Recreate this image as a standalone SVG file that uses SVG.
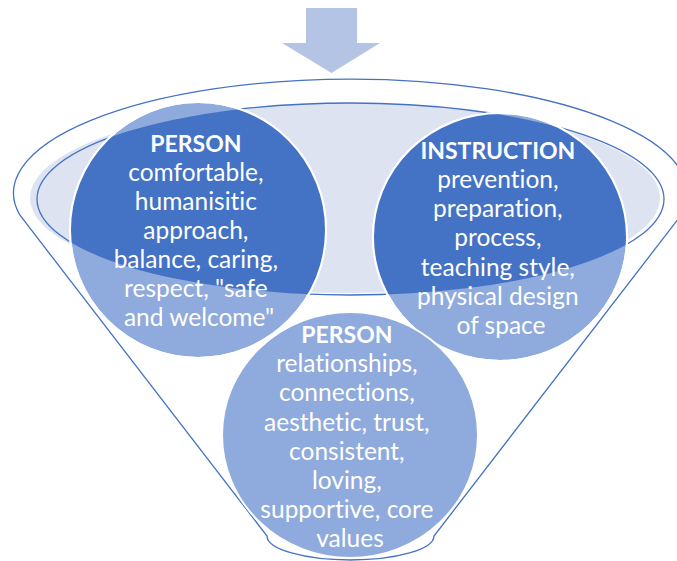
<svg xmlns="http://www.w3.org/2000/svg" width="677" height="561" viewBox="0 0 677 561">
  <defs>
    <style>
      .funnel { fill: #FFFFFF; stroke: #4472C4; stroke-width: 1.3; }
      .inner-fill { fill: #DDE3F1; }
      .inner-line { fill: none; stroke: #4472C4; stroke-width: 1.3; }
      .circ { fill: #8FAADC; stroke: #FFFFFF; stroke-width: 2; }
      .dark { fill: #4472C4; }
      .ring { fill: none; stroke: #FFFFFF; stroke-width: 2; }
      .arrow { fill: #B4C4E4; }
      .lbl { font-family: "Lato", "Liberation Sans", sans-serif; font-size: 24.5px; fill: #FFFFFF; text-anchor: middle; font-variant-ligatures: none; font-feature-settings: "liga" 0, "clig" 0; }
      .hd { font-weight: bold; font-size: 23px; }
    </style>
    <clipPath id="innerClip">
      <ellipse cx="350.5" cy="199" rx="313.5" ry="96"/>
    </clipPath>
  </defs>

  <g id="arrow">
    <polygon class="arrow" points="306,8 357,8 357,43 380,43 331.5,73 282,43 306,43"/>
  </g>

  <g id="funnel">
    <path class="funnel" d="M 19.8 215 A 337 114 0 1 1 681.2 215 L 434 536 A 83.5 24 0 0 1 267 536 Z"/>
    <ellipse class="inner-fill" cx="345" cy="198" rx="315" ry="95"/>
    <ellipse class="inner-line" cx="350.5" cy="199" rx="313.5" ry="96"/>
  </g>

  <g id="node-person-top">
    <circle class="circ" cx="198" cy="230" r="128"/>
    <circle class="dark" cx="198" cy="230" r="128" clip-path="url(#innerClip)"/>
    <circle class="ring" cx="198" cy="230" r="128"/>
    <text class="lbl">
      <tspan class="hd" x="199" y="152">PERSON</tspan>
      <tspan x="199" y="181">comfortable,</tspan>
      <tspan x="199" y="210">humanisitic</tspan>
      <tspan x="199" y="239">approach,</tspan>
      <tspan x="199" y="268">balance, caring,</tspan>
      <tspan x="199" y="297">respect, "safe</tspan>
      <tspan x="199" y="326">and welcome"</tspan>
    </text>
  </g>

  <g id="node-instruction">
    <ellipse class="circ" cx="500" cy="237" rx="127" ry="124"/>
    <ellipse class="dark" cx="500" cy="237" rx="127" ry="124" clip-path="url(#innerClip)"/>
    <ellipse class="ring" cx="500" cy="237" rx="127" ry="124"/>
    <text class="lbl">
      <tspan class="hd" x="501" y="159">INSTRUCTION</tspan>
      <tspan x="501" y="188">prevention,</tspan>
      <tspan x="501" y="217">preparation,</tspan>
      <tspan x="501" y="246">process,</tspan>
      <tspan x="501" y="276">teaching style,</tspan>
      <tspan x="501" y="305">physical design</tspan>
      <tspan x="501" y="334">of space</tspan>
    </text>
  </g>

  <g id="node-person-bottom">
    <ellipse class="circ" cx="350" cy="435" rx="128" ry="123"/>
    <text class="lbl">
      <tspan class="hd" x="350" y="343">PERSON</tspan>
      <tspan x="350" y="372">relationships,</tspan>
      <tspan x="350" y="401">connections,</tspan>
      <tspan x="350" y="431">aesthetic, trust,</tspan>
      <tspan x="350" y="460">consistent,</tspan>
      <tspan x="350" y="489">loving,</tspan>
      <tspan x="350" y="518">supportive, core</tspan>
      <tspan x="350" y="547">values</tspan>
    </text>
  </g>

  <g id="connectors"></g>
</svg>
